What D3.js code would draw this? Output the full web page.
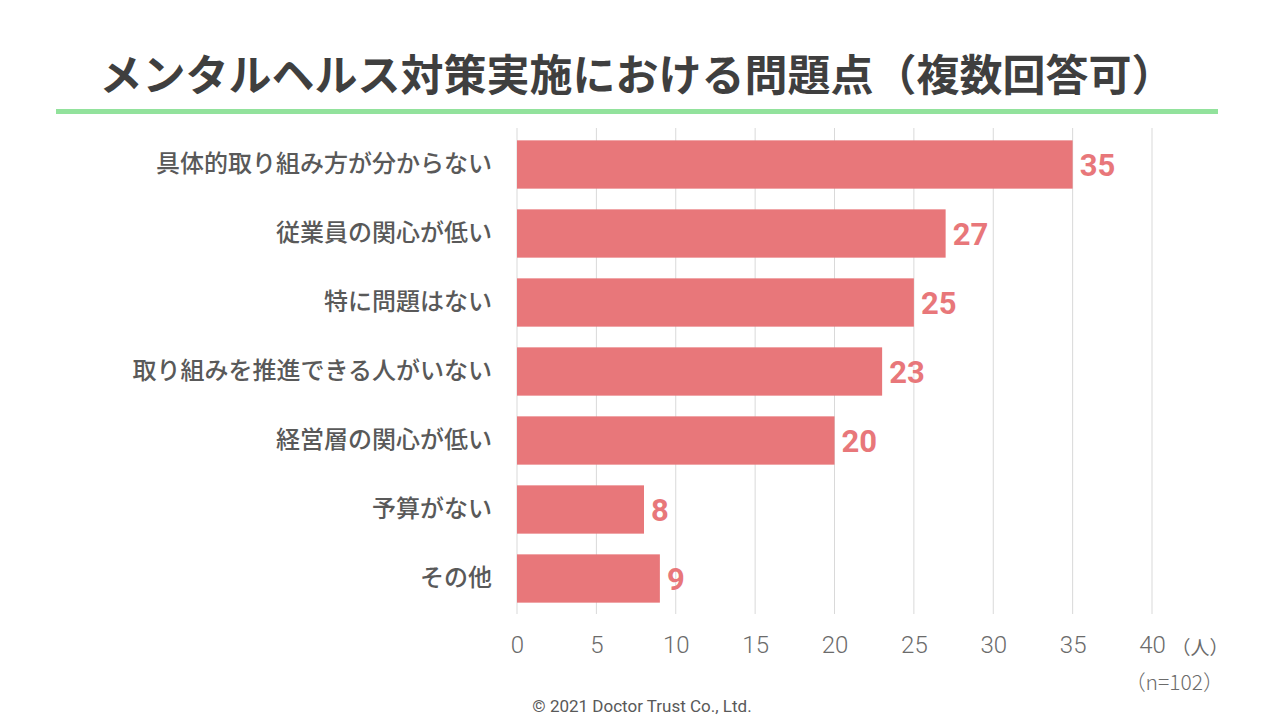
<!DOCTYPE html>
<html>
<head>
<meta charset="utf-8">
<script src="https://cdn.jsdelivr.net/npm/d3@7/dist/d3.min.js"></script>
<style>
  body { margin: 0; background: #fff; }
  svg { display: block; font-family: "Noto Sans CJK JP", "Noto Sans", sans-serif; }
</style>
</head>
<body>
<script>
var categories = ["具体的取り組み方が分からない", "従業員の関心が低い", "特に問題はない",
    "取り組みを推進できる人がいない", "経営層の関心が低い", "予算がない", "その他"];
var values = [35, 27, 25, 23, 20, 8, 9];
var xTicks = [0, 5, 10, 15, 20, 25, 30, 35, 40];

var W = 1280, H = 720;
var margin = { left: 517, right: 128, top: 130, bottom: 107 };

var svg = d3.select("body").append("svg")
    .attr("width", W)
    .attr("height", H);

// title + green rule
svg.append("text")
    .attr("x", 637).attr("y", 91)
    .attr("text-anchor", "middle")
    .attr("font-size", 43).attr("font-weight", 700)
    .attr("fill", "#3f3f3f")
    .text("メンタルヘルス対策実施における問題点（複数回答可）");
svg.append("rect")
    .attr("x", 56).attr("y", 109)
    .attr("width", 1162).attr("height", 5)
    .attr("fill", "#92e29c");

var x = d3.scaleLinear().domain([0, 40]).range([margin.left, W - margin.right]);
var y = d3.scaleBand().domain(categories)
    .range([margin.top, H - margin.bottom])
    .paddingInner(0.3).paddingOuter(0.15);

// grid
svg.append("g").selectAll("line")
    .data(xTicks)
    .enter().append("line")
    .attr("x1", d => x(d)).attr("x2", d => x(d))
    .attr("y1", 128).attr("y2", 614)
    .attr("stroke", "#d9d9d9").attr("stroke-width", 1);

// x axis labels
var xAxis = d3.axisBottom(x).tickValues(xTicks).tickSize(0).tickPadding(0);
var gx = svg.append("g")
    .attr("transform", "translate(0,636)")
    .call(xAxis);
gx.select(".domain").remove();
gx.selectAll("text")
    .attr("font-family", "Roboto, sans-serif")
    .attr("font-weight", 300)
    .attr("font-size", 24)
    .attr("fill", "#6b6b6b")
    .attr("dy", "0.7em");

svg.append("text")
    .attr("x", 1200).attr("y", 655)
    .attr("text-anchor", "middle")
    .attr("font-size", 19).attr("fill", "#6b6b6b")
    .text("（人）");
svg.append("text")
    .attr("x", 1224).attr("y", 690)
    .attr("text-anchor", "end")
    .attr("font-size", 21).attr("font-weight", 300).attr("fill", "#6b6b6b")
    .text("（n=102）");

// category labels
var yAxis = d3.axisLeft(y).tickSize(0).tickPadding(25);
var gy = svg.append("g")
    .attr("transform", "translate(" + margin.left + ",0)")
    .call(yAxis);
gy.select(".domain").remove();
gy.selectAll("text")
    .attr("font-family", "\"Noto Sans CJK JP\", sans-serif")
    .attr("font-size", 24)
    .attr("font-weight", 500)
    .attr("fill", "#595959");

// bars
svg.append("g").selectAll("rect")
    .data(values)
    .enter().append("rect")
    .attr("x", x(0))
    .attr("y", (d, i) => y(categories[i]))
    .attr("width", d => x(d) - x(0))
    .attr("height", y.bandwidth())
    .attr("fill", "#e8777a");

// value labels
svg.append("g").selectAll("text")
    .data(values)
    .enter().append("text")
    .attr("x", d => x(d) + 7)
    .attr("y", (d, i) => y(categories[i]) + y.bandwidth() / 2)
    .attr("dy", "0.38em")
    .attr("font-family", "Roboto, sans-serif")
    .attr("font-size", 31)
    .attr("font-weight", 700)
    .attr("fill", "#e8777a")
    .text(d => d);

svg.append("text")
    .attr("x", 642).attr("y", 712)
    .attr("text-anchor", "middle")
    .attr("font-family", "Roboto, sans-serif")
    .attr("font-size", 17).attr("fill", "#595959")
    .text("©  2021 Doctor Trust Co., Ltd.");
</script>
</body>
</html>
